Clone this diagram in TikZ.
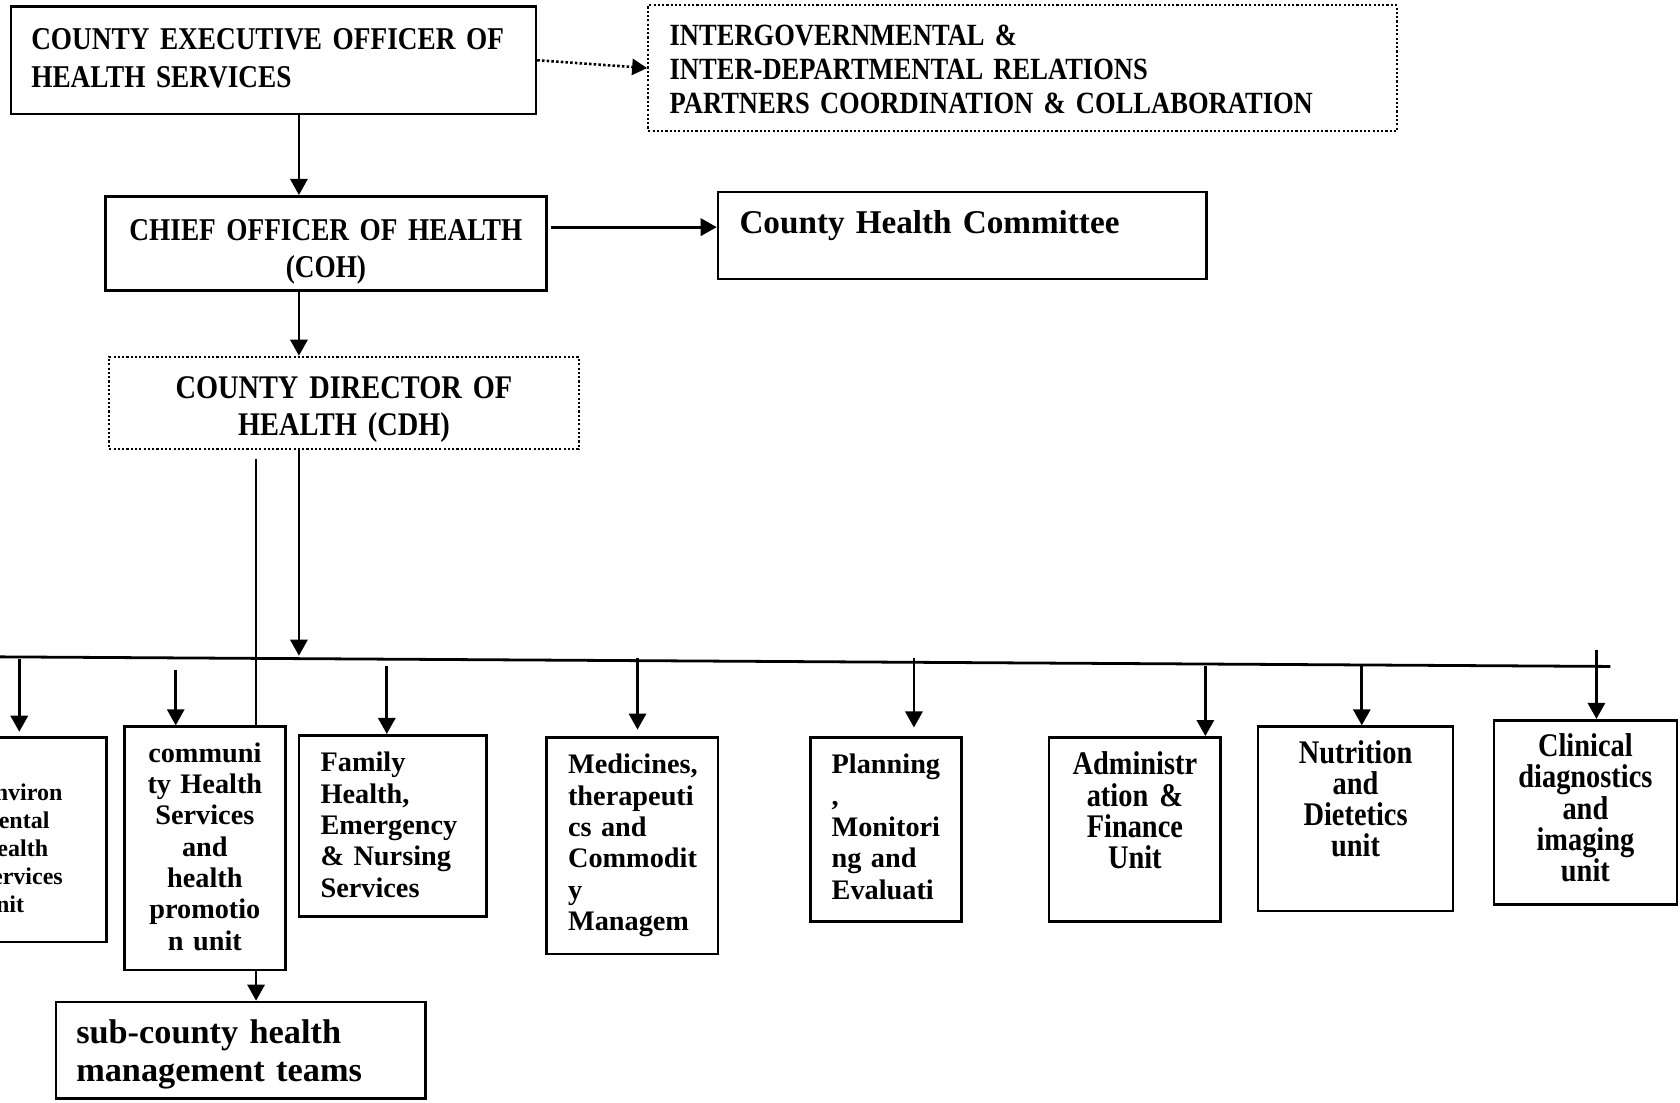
\documentclass[tikz,border=0pt]{standalone}
\usepackage{fontspec}
\setmainfont{Liberation Serif}
\newfontfamily\narrowfont{Liberation Serif}[FakeStretch=0.86]
\usetikzlibrary{arrows.meta}
\hyphenpenalty=10000
\exhyphenpenalty=10000
\def\sizefont#1#2{\fontsize{#1}{#2}\selectfont\bfseries}

\tikzset{
	box/.style={draw, line width=1.2pt, inner ysep=0pt, inner xsep=10pt, anchor=north west},
	dotbox/.style={box, line width=1pt, densely dotted},
	capsfont/.style={font=\narrowfont\sizefont{14.8}{17.5}},
	unitfont/.style={font=\sizefont{13.2}{14.65}},
	narrowunit/.style={font=\narrowfont\sizefont{15.4}{14.6}},
	wire/.style={line width=1.3pt},
	arr/.style={wire, -{Triangle[width=8pt,length=7.5pt]}},
	dotarr/.style={line width=1.2pt, densely dotted, -{Triangle[width=7.5pt,length=7pt]}}
}

\begin{document}
\begin{tikzpicture}[x=0.5pt, y=-0.5pt]
			%%%%% START %%%%%
			\useasboundingbox (0,0) rectangle (1568,1029);
			\clip (0,0) rectangle (1568,1029);
			
			\node[box, capsfont, inner xsep=9.5pt, text width=226pt, text height=20pt, text depth=30pt] (ceo) at (9,5)
				{COUNTY EXECUTIVE OFFICER OF\\HEALTH SERVICES};
			\node[dotbox, font=\narrowfont\sizefont{14.4}{16}, text width=329.5pt, text height=18.5pt, text depth=40pt] (inter) at (604,4)
				{INTERGOVERNMENTAL \&\\INTER-DEPARTMENTAL RELATIONS\\PARTNERS COORDINATION \& COLLABORATION};
			
			\node[box, capsfont, align=center, inner xsep=5pt, text width=196pt, text height=20.5pt, text depth=23.5pt] (coh) at (97,182)
				{CHIEF OFFICER OF HEALTH\\(COH)};
			\node[box, font=\sizefont{15.5}{18}, text width=208pt, text height=19.5pt, text depth=21pt] (chc) at (669,178)
				{County Health Committee};
			
			\node[dotbox, font=\narrowfont\sizefont{15.4}{17}, align=center, inner xsep=5pt, text width=209pt, text height=19.5pt, text depth=23.5pt] (cdh) at (101,332)
				{COUNTY DIRECTOR OF\\HEALTH (CDH)};
			
			%%%%% UNITS %%%%%
			\node[box, font=\sizefont{11.2}{13}, text width=49.5pt, text height=29.5pt, text depth=66pt] (env) at (-41,687)
				{Environ\\mental\\Health\\Services\\Unit};
			\node[box, unitfont, align=center, inner xsep=4pt, text width=67pt, text height=16.5pt, text depth=97pt] (comm) at (115,677)
				{communi\\ty Health\\Services\\and\\health\\promotio\\n unit};
			\node[box, unitfont, text width=67.5pt, text height=17pt, text depth=67.5pt] (fam) at (278,685)
				{Family\\Health,\\Emergency\\\& Nursing\\Services};
			\node[box, unitfont, text width=60pt, text height=17pt, text depth=84pt] (med) at (509,687)
				{Medicines,\\therapeuti\\cs and\\Commodit\\y\\Managem};
			\node[box, unitfont, text width=50.5pt, text height=17pt, text depth=69pt] (plan) at (755,687)
				{Planning\\,\\Monitori\\ng and\\Evaluati};
			\node[box, narrowunit, align=center, inner xsep=5pt, text width=70pt, text height=17.5pt, text depth=68.5pt] (adm) at (978,687)
				{Administr\\ation \&\\Finance\\Unit};
			\node[box, narrowunit, align=center, inner xsep=5pt, text width=81pt, text height=17pt, text depth=69pt] (nut) at (1173,677)
				{Nutrition\\and\\Dietetics\\unit};
			\node[box, narrowunit, align=center, inner xsep=5pt, text width=75.5pt, text height=17pt, text depth=69pt] (cli) at (1393,671)
				{Clinical\\diagnostics\\and\\imaging\\unit};
			
			\node[box, font=\sizefont{16}{17.5}, inner xsep=9.5pt, text width=153.5pt, text height=19.5pt, text depth=25.5pt] (sub) at (51,934)
				{sub-county health\\management teams};
			
			%%%%% LINKS %%%%%
			\coordinate (spine) at (279,0);
			\coordinate (tap) at (239,428);
			\coordinate (chcin) at (669,212);
			\coordinate (busL) at (-10,613);
			\coordinate (busR) at (1503,622);
			\coordinate (busin) at (279,612);
			
			\draw[dotarr] (ceo.east) -- (inter.west);
			\draw[arr] (ceo.south -| spine) -- (coh.north -| spine);
			\draw[arr] ([xshift=1.5pt]coh.east |- chcin) -- (chcin);
			\draw[arr] (coh.south -| spine) -- (cdh.north -| spine);
			\draw[arr] (cdh.south -| spine) -- (busin);
			
			\draw[wire] (busL) -- (busR);
			\draw[wire] (tap) -- (tap |- comm.north);
			\draw[arr] (comm.south -| tap) -- (sub.north -| tap);
			
			\coordinate (envtop) at (18,615);
			\coordinate (commtop) at (164,625);
			\coordinate (famtop) at (361,622);
			\coordinate (medtop) at (595,614);
			\coordinate (plantop) at (853,614);
			\coordinate (admtop) at (1125,622);
			\coordinate (nuttop) at (1271,620);
			\coordinate (clitop) at (1490,607);
			
			\draw[arr, shorten >=2pt] (envtop) -- (envtop |- env.north);
			\draw[arr] (commtop) -- (commtop |- comm.north);
			\draw[arr] (famtop) -- (famtop |- fam.north);
			\draw[arr, shorten >=3pt] (medtop) -- (medtop |- med.north);
			\draw[arr, shorten >=4pt] (plantop) -- (plantop |- plan.north);
			\draw[arr] (admtop) -- (admtop |- adm.north);
			\draw[arr] (nuttop) -- (nuttop |- nut.north);
			\draw[arr] (clitop) -- (clitop |- cli.north);
			
			%%%%% END %%%%%
\end{tikzpicture}
\end{document}
